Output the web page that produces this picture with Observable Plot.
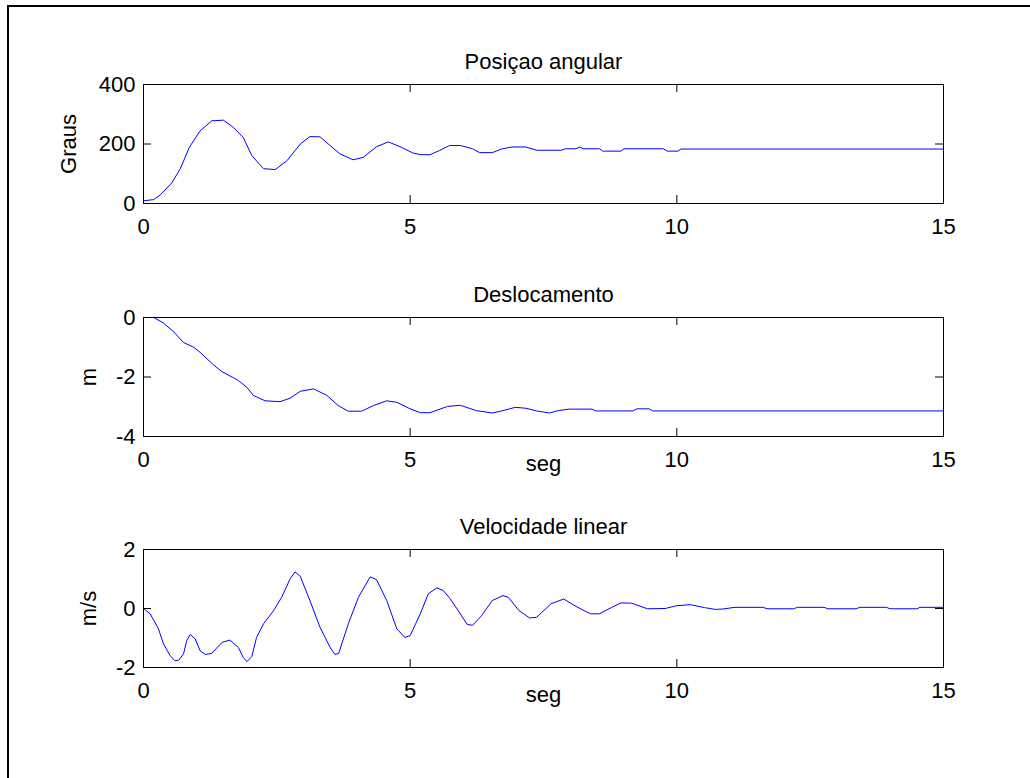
<!DOCTYPE html>
<html>
<head>
<meta charset="utf-8">
<script src="https://cdn.jsdelivr.net/npm/d3@7"></script>
<script src="https://cdn.jsdelivr.net/npm/@observablehq/plot@0.6"></script>
<style>
  html, body { margin: 0; padding: 0; background: #fff; }
  #fig { position: relative; width: 1030px; height: 778px; overflow: hidden; background: #fff; }
  #border { position: absolute; left: 7px; top: 5px; width: 1100px; height: 900px;
            border-left: 2px solid #000; border-top: 2px solid #000; }
  .panel { position: absolute; left: 0; }
</style>
</head>
<body>
<div id="fig"><div id="border"></div></div>
<script>
// ---- data ----
const xTicks = [0, 5, 10, 15];

const angleT   = [0, 0.19, 0.31, 0.53, 0.69, 0.86, 1.06, 1.28, 1.50, 1.69, 1.87, 2.03, 2.25, 2.47, 2.69, 2.94, 3.12, 3.31, 3.68, 3.93, 4.12, 4.37, 4.59, 4.81, 5.05, 5.20, 5.37, 5.55, 5.74, 5.94, 6.17, 6.30, 6.54, 6.71, 6.91, 7.17, 7.37, 7.84, 7.91, 8.11, 8.18, 8.24, 8.55, 8.61, 8.95, 9.01, 9.75, 9.82, 10.02, 10.08, 15];
const angleDeg = [9, 13, 28, 69, 117, 189, 244, 278, 280, 255, 222, 161, 117, 114, 144, 200, 225, 224, 167, 147, 155, 191, 207, 191, 170, 164, 164, 178, 195, 195, 184, 171, 171, 183, 190, 190, 179, 179, 184, 184, 190, 184, 184, 176, 176, 184, 184, 176, 176, 183, 183];
const angleTicks = [0, 200, 400];

const dispT = [0, 0.19, 0.37, 0.56, 0.75, 0.94, 1.06, 1.31, 1.47, 1.69, 1.78, 1.94, 2.06, 2.28, 2.56, 2.75, 2.94, 3.19, 3.44, 3.65, 3.84, 4.09, 4.31, 4.56, 4.75, 5.0, 5.19, 5.37, 5.70, 5.94, 6.24, 6.54, 6.74, 6.97, 7.17, 7.37, 7.61, 7.78, 7.98, 8.41, 8.48, 9.18, 9.25, 9.48, 9.55, 15];
const dispM = [0, 0, -0.18, -0.47, -0.84, -1.0, -1.17, -1.59, -1.82, -2.03, -2.12, -2.35, -2.62, -2.8, -2.83, -2.71, -2.48, -2.40, -2.62, -2.96, -3.15, -3.15, -2.96, -2.80, -2.85, -3.07, -3.2, -3.2, -2.99, -2.95, -3.13, -3.21, -3.13, -3.02, -3.05, -3.14, -3.21, -3.13, -3.08, -3.08, -3.14, -3.14, -3.07, -3.07, -3.14, -3.14];
const dispTicks = [-4, -2, 0];

const velT  = [0, 0.125, 0.28, 0.375, 0.5, 0.59, 0.66, 0.75, 0.81, 0.875, 0.97, 1.06, 1.16, 1.28, 1.47, 1.62, 1.78, 1.87, 1.94, 2.03, 2.12, 2.25, 2.44, 2.59, 2.75, 2.84, 2.94, 3.12, 3.31, 3.5, 3.59, 3.66, 3.84, 4.03, 4.25, 4.37, 4.56, 4.75, 4.9, 5.0, 5.19, 5.34, 5.50, 5.62, 5.75, 5.90, 6.07, 6.17, 6.34, 6.54, 6.74, 6.84, 7.04, 7.24, 7.37, 7.64, 7.88, 8.11, 8.38, 8.55, 8.78, 8.95, 9.15, 9.45, 9.78, 9.98, 10.25, 10.52, 10.72, 10.85, 11.09, 11.62, 11.69, 12.19, 12.26, 12.76, 12.83, 13.36, 13.43, 13.93, 14.0, 14.50, 14.56, 15];
const velMS = [0, -0.18, -0.69, -1.2, -1.6, -1.77, -1.75, -1.54, -1.09, -0.88, -1.03, -1.43, -1.56, -1.52, -1.15, -1.07, -1.32, -1.66, -1.80, -1.63, -0.98, -0.52, -0.07, 0.38, 1.01, 1.24, 1.09, 0.27, -0.64, -1.32, -1.56, -1.52, -0.52, 0.38, 1.07, 0.98, 0.27, -0.69, -0.98, -0.92, -0.18, 0.50, 0.70, 0.61, 0.33, -0.07, -0.54, -0.57, -0.24, 0.27, 0.44, 0.38, -0.07, -0.32, -0.30, 0.16, 0.32, 0.07, -0.18, -0.18, 0.04, 0.19, 0.18, -0.01, 0, 0.09, 0.13, 0.03, -0.03, -0.02, 0.04, 0.04, -0.01, -0.01, 0.04, 0.04, -0.01, -0.01, 0.04, 0.04, -0.01, -0.01, 0.04, 0.04];
const velTicks = [-2, 0, 2];

const titles = ["Posiçao angular", "Deslocamento", "Velocidade linear"];
const yLabels = ["Graus", "m", "m/s"];
const xLabel = "seg";

// ---- drawing ----
const W = 1030, ML = 143, MR = 87, TICK = 8;
const FONT = "'Liberation Sans', Arial, sans-serif";

function panel(o) {
  const frameW = W - ML - MR;
  const frameH = o.height - o.marginTop - o.marginBottom;
  const rows = o.t.map((t, i) => ({t, v: o.v[i]}));
  const marks = [
    Plot.line(rows, {x: "t", y: "v", stroke: "#0000ff", strokeWidth: 1}),
    Plot.frame({stroke: "#000", strokeWidth: 1}),
    // inward ticks on all four sides (MATLAB style)
    Plot.tickY(o.yTicks, {y: d => d, insetRight: frameW - TICK, stroke: "#000"}),
    Plot.tickY(o.yTicks, {y: d => d, insetLeft: frameW - TICK, stroke: "#000"}),
    Plot.tickX(xTicks, {x: d => d, insetBottom: frameH - TICK, stroke: "#000"}),
    Plot.tickX(xTicks, {x: d => d, insetTop: frameH - TICK, stroke: "#000"}),
    Plot.axisX({ticks: xTicks, tickSize: 0, tickPadding: 15, label: null, tickFormat: d => String(d)}),
    Plot.axisY({ticks: o.yTicks, tickSize: 0, tickPadding: 8, label: null, tickFormat: d => String(d)}),
    Plot.text([o.title], {frameAnchor: "top", lineAnchor: "top", dy: -31, text: d => d, fill: "#000"}),
    Plot.text([o.ylabel], {frameAnchor: "left", textAnchor: "middle", lineAnchor: "middle", dx: o.ylabelDx, rotate: -90, text: d => d, fill: "#000"})
  ];
  if (o.xlabel) marks.push(Plot.text([o.xlabel], {frameAnchor: "bottom", lineAnchor: "bottom", dy: 34, text: d => d, fill: "#000"}));
  const svg = Plot.plot({
    width: W, height: o.height,
    marginLeft: ML, marginRight: MR, marginTop: o.marginTop, marginBottom: o.marginBottom,
    x: {domain: [0, 15]},
    y: {domain: o.yDomain},
    style: {fontFamily: FONT, fontSize: "22px", color: "#000", background: "transparent", overflow: "visible"},
    marks
  });
  svg.classList.add("panel");
  svg.style.top = o.top + "px";
  document.getElementById("fig").appendChild(svg);
}

panel({t: angleT, v: angleDeg, yDomain: [0, 400], yTicks: angleTicks, title: titles[0], ylabel: yLabels[0], ylabelDx: -75,
       top: 0, height: 250, marginTop: 84, marginBottom: 47});
panel({t: dispT, v: dispM, yDomain: [-4, 0], yTicks: dispTicks, title: titles[1], ylabel: yLabels[1], ylabelDx: -55, xlabel: xLabel,
       top: 250, height: 240, marginTop: 67, marginBottom: 54});
panel({t: velT, v: velMS, yDomain: [-2, 2], yTicks: velTicks, title: titles[2], ylabel: yLabels[2], ylabelDx: -55, xlabel: xLabel,
       top: 490, height: 288, marginTop: 59, marginBottom: 111});
</script>
</body>
</html>
